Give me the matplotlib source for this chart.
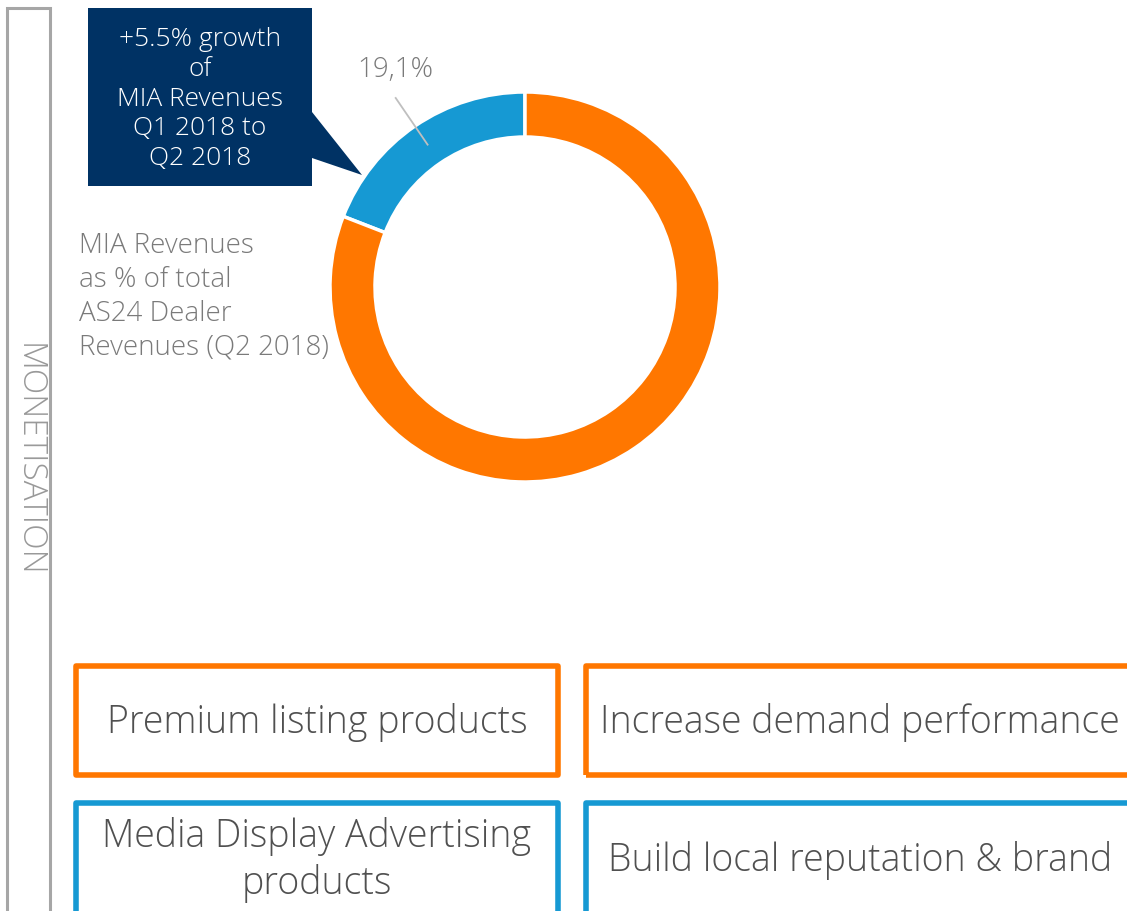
# ── IMPORTS ───────────────────────────────────────────────────────────────────

import numpy as np
import matplotlib
matplotlib.use("Agg")
import matplotlib.pyplot as plt
from matplotlib.patches import Rectangle, Polygon

# ── DATA ──────────────────────────────────────────────────────────────────────

slice_names = ["MIA Revenues", "Other dealer revenues"]
slice_values = [19.1, 80.9]
slice_label = "19,1%"

callout_text = "+5.5% growth\nof\nMIA Revenues\nQ1 2018 to\nQ2 2018"
side_text = "MIA Revenues\nas % of total\nAS24 Dealer\nRevenues (Q2 2018)"
section_title = "MONETISATION"

orange_boxes = ["Premium listing products", "Increase demand performance"]
blue_boxes = ["Media Display Advertising\nproducts", "Build local reputation & brand"]

# ── STYLE ─────────────────────────────────────────────────────────────────────

ORANGE = "#FF7700"
BLUE = "#1699D3"
NAVY = "#003264"
GREY_TEXT = "#505050"
GREY_LIGHT = "#7A7A7A"
GREY_LINE = "#A6A6A6"
FONT = ["Open Sans", "DejaVu Sans"]

W, H = 1127, 911


def Y(y):
    # pixel row (top-down) -> data y (bottom-up)
    return H - y


fig = plt.figure(figsize=(W / 100, H / 100), dpi=100)
ax = fig.add_axes([0, 0, 1, 1])

# ── DONUT ─────────────────────────────────────────────────────────────────────

cx, cy, r_out, ring = 525, Y(287), 195, 45
wedges, _ = ax.pie(slice_values, colors=[BLUE, ORANGE], startangle=90,
                   counterclock=True, radius=r_out, center=(cx, cy),
                   frame=True,
                   wedgeprops=dict(width=ring, edgecolor="white", linewidth=2.5))

# leader line + label from the blue wedge's mid angle
w = wedges[0]
mid = np.deg2rad((w.theta1 + w.theta2) / 2)
r_mid = r_out - ring / 2
p0 = (cx + r_mid * np.cos(mid), cy + r_mid * np.sin(mid))
p1 = (cx + 229 * np.cos(mid), cy + 229 * np.sin(mid))
ax.plot([p0[0], p1[0]], [p0[1], p1[1]], color="#BFBFBF", lw=1.3)
ax.text(p1[0], p1[1] + 28, slice_label, ha="center", va="center",
        fontsize=20, color=GREY_LIGHT, family=FONT, fontweight="light")

# ── CALLOUT ───────────────────────────────────────────────────────────────────

bx0, bx1, by0, by1 = 88, 312, 8, 186
callout = Polygon([(bx0, Y(by0)), (bx1, Y(by0)), (bx1, Y(112)), (362, Y(175)),
                   (bx1, Y(158)), (bx1, Y(by1)), (bx0, Y(by1))],
                  closed=True, facecolor=NAVY, edgecolor="none")
ax.add_patch(callout)
ax.text((bx0 + bx1) / 2, Y(99), callout_text, ha="center", va="center",
        fontsize=19, color="white", family=FONT, fontweight="light",
        linespacing=1.24)

ax.text(79, Y(297), side_text, ha="left", va="center", fontsize=20,
        color=GREY_LIGHT, family=FONT, fontweight="light", linespacing=1.27)

# ── SECTION BRACKET ───────────────────────────────────────────────────────────

ax.plot([7, 7, 50, 50], [Y(930), Y(8), Y(8), Y(930)], color=GREY_LINE,
        lw=2.2, solid_joinstyle="miter")
ax.text(28, Y(460), section_title, rotation=-90, ha="center", va="center",
        fontsize=24, color="#999999", family=FONT, fontweight="light")

# ── BOTTOM BOXES ──────────────────────────────────────────────────────────────

cols = [(76, 558), (586, 1145)]
rows = [(666, 775, ORANGE, orange_boxes), (803, 960, BLUE, blue_boxes)]
for top, bot, colour, labels in rows:
    for (x0, x1), label in zip(cols, labels):
        ax.add_patch(Rectangle((x0, Y(bot)), x1 - x0, bot - top, fill=False,
                               edgecolor=colour, lw=4, joinstyle="round"))
        text_y = 723 if colour == ORANGE else 860
        cx_text = (x0 + x1) / 2 if x0 < 500 else 860
        ax.text(cx_text, Y(text_y), label, ha="center", va="center",
                fontsize=27, color=GREY_TEXT, family=FONT,
                fontweight="light", linespacing=1.25)

ax.set_xlim(0, W)
ax.set_ylim(0, H)
ax.set_aspect("equal")
ax.axis("off")

fig.savefig("out.png", dpi=100)
